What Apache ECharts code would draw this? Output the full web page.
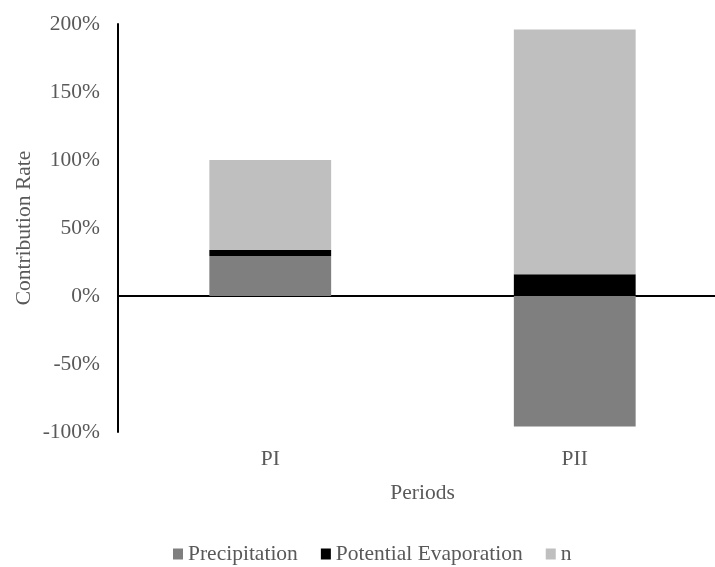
<!DOCTYPE html>
<html>
<head>
<meta charset="utf-8">
<script src="https://cdn.jsdelivr.net/npm/echarts@6/dist/echarts.min.js"></script>
<style>
  html, body { margin: 0; padding: 0; background: #fff; overflow: hidden; }
  /* the plot area runs a little past the right edge of the page */
  #chart { width: 727px; height: 567px; }
</style>
</head>
<body>
<div id="chart"></div>
<script>
// Contribution of each factor to runoff change, per period (percent)
var periods = ['PI', 'PII'];
var precipitation = [29.4, -96];
var potentialEvaporation = [4.4, 16];
var nParam = [66.2, 180];
var yTicks = { min: -100, max: 200, step: 50 };

var FONT = "'Liberation Serif', 'Times New Roman', serif";
var TEXT = '#595959';
var FS = 21.5;

var chart = echarts.init(document.getElementById('chart'));

function barSeries(name, data, color) {
  return {
    name: name,
    type: 'bar',
    stack: 'total',
    xAxisIndex: 0,
    barWidth: '40%',
    data: data,
    itemStyle: { color: color },
    emphasis: { disabled: true }
  };
}

chart.setOption({
  animation: false,
  textStyle: { fontFamily: FONT },
  grid: { left: 118, top: 24, bottom: 135, right: 0, containLabel: false },
  legend: {
    top: 538,
    left: 168,
    padding: 5,
    itemWidth: 10,
    itemHeight: 11,
    itemGap: 23,
    icon: 'rect',
    textStyle: { fontFamily: FONT, fontSize: FS, color: TEXT },
    data: ['Precipitation', 'Potential Evaporation', 'n']
  },
  xAxis: [
    {
      type: 'category',
      data: periods,
      position: 'bottom',
      axisLine: { show: false, onZero: false },
      axisTick: { show: false },
      axisLabel: { fontFamily: FONT, fontSize: FS, color: TEXT, margin: 16 },
      name: 'Periods',
      nameLocation: 'middle',
      nameGap: 50,
      nameMoveOverlap: false,
      nameTextStyle: { fontFamily: FONT, fontSize: FS, color: TEXT }
    },
    {
      // zero baseline across the plot
      type: 'category',
      data: periods,
      axisLine: { show: true, onZero: true, lineStyle: { color: '#000', width: 2 } },
      axisTick: { show: false },
      axisLabel: { show: false }
    }
  ],
  yAxis: {
    type: 'value',
    min: yTicks.min,
    max: yTicks.max,
    interval: yTicks.step,
    axisLine: { show: true, lineStyle: { color: '#000', width: 2 } },
    axisTick: { show: false },
    splitLine: { show: false },
    axisLabel: {
      fontFamily: FONT, fontSize: FS, color: TEXT, margin: 18,
      formatter: '{value}%'
    },
    name: 'Contribution Rate',
    nameLocation: 'middle',
    nameRotate: 90,
    nameGap: 83,
    nameMoveOverlap: false,
    nameTextStyle: { fontFamily: FONT, fontSize: FS, color: TEXT }
  },
  series: [
    barSeries('Precipitation', precipitation, '#7f7f7f'),
    barSeries('Potential Evaporation', potentialEvaporation, '#000000'),
    barSeries('n', nParam, '#bfbfbf')
  ]
});
</script>
</body>
</html>
